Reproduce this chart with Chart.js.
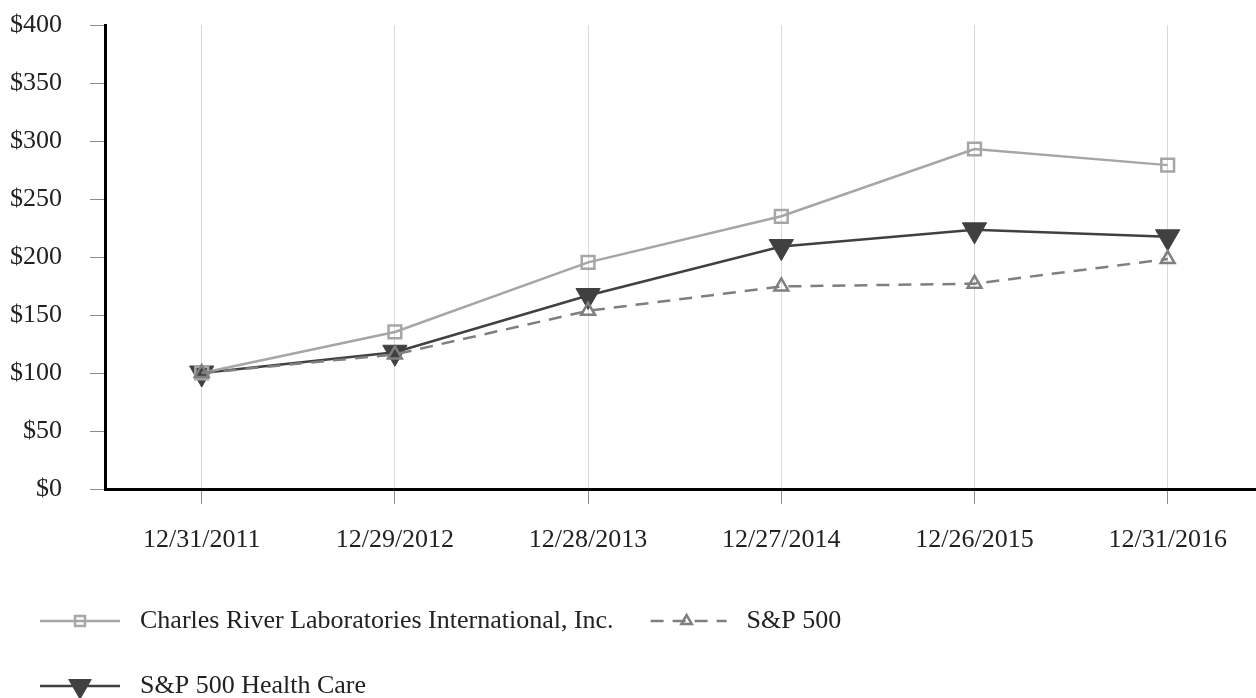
<!DOCTYPE html>
<html>
<head>
<meta charset="utf-8">
<title>Cumulative Total Return</title>
<script src="https://cdn.jsdelivr.net/npm/chart.js@4.4.1/dist/chart.umd.min.js"></script>
<style>
  html, body { margin: 0; padding: 0; background: #fff; overflow: hidden; }
  #wrap { width: 1256px; height: 698px; }
</style>
</head>
<body>
<div id="wrap"><canvas id="returnChart" width="1256" height="698"></canvas></div>
<script>
// values
const categories = ['12/31/2011', '12/29/2012', '12/28/2013', '12/27/2014', '12/26/2015', '12/31/2016'];
const crlValues = [100, 135.4, 195.4, 235.1, 293.1, 279.2];
const sp500Values = [100, 116.0, 153.6, 174.6, 177.0, 198.2];
const healthValues = [100, 117.9, 166.8, 209.0, 223.4, 217.4];
const yTicks = [0, 50, 100, 150, 200, 250, 300, 350, 400];

const serif = '"Liberation Serif", "Times New Roman", serif';

function toPoints(values) {
	return values.map(function (v, i) { return { x: i, y: v }; });
}

// the scales would otherwise reserve room for overhanging labels
function noPadding(scale) {
	scale.paddingTop = 0;
	scale.paddingBottom = 0;
	scale.paddingLeft = 0;
	scale.paddingRight = 0;
}

// Chart.js keeps a small gap on the right, so carry the x axis line on to the edge
const axisToEdge = {
	id: 'axisToEdge',
	afterDraw: function (chart) {
		const x = chart.scales.x;
		const ctx = chart.ctx;
		ctx.save();
		ctx.fillStyle = '#000';
		ctx.fillRect(x.right - 2, Math.round(x.top) - 1, chart.width - x.right + 2, 3);
		ctx.restore();
	}
};

// draws the legend in two rows at the bottom left, like the original
const bottomLegend = {
	id: 'bottomLegend',
	afterDraw: function (chart) {
		const ctx = chart.ctx;
		const sets = chart.data.datasets;
		ctx.save();
		ctx.font = '26px ' + serif;
		ctx.textBaseline = 'middle';

		function item(ds, x, y, markerRadius) {
			ctx.save();
			ctx.strokeStyle = ds.borderColor;
			ctx.lineWidth = ds.borderWidth;
			ctx.setLineDash(ds.borderDash || []);
			ctx.lineDashOffset = ds.borderDash ? -4 : 0;
			ctx.beginPath();
			ctx.moveTo(x, y);
			ctx.lineTo(x + 80, y);
			ctx.stroke();
			ctx.restore();

			ctx.save();
			ctx.fillStyle = ds.pointBackgroundColor;
			ctx.strokeStyle = ds.pointBorderColor;
			ctx.lineWidth = ds.pointBorderWidth;
			Chart.helpers.drawPoint(ctx, {
				pointStyle: ds.pointStyle,
				rotation: ds.pointRotation || 0,
				radius: markerRadius,
				borderWidth: ds.pointBorderWidth
			}, x + 40, y);
			ctx.restore();

			ctx.fillStyle = '#222';
			ctx.fillText(ds.label, x + 100, y);
			return x + 100 + ctx.measureText(ds.label).width;
		}

		const end = item(sets[0], 40, 621, 7);
		item(sets[1], end + 33, 621, 6);
		item(sets[2], 40, 686, 13);
		ctx.restore();
	}
};

const ctx = document.getElementById('returnChart').getContext('2d');

new Chart(ctx, {
	type: 'line',
	data: {
		datasets: [{
			label: 'Charles River Laboratories International, Inc.',
			data: toPoints(crlValues),
			borderColor: '#a6a6a6',
			borderWidth: 2.5,
			pointStyle: 'rect',
			pointRadius: 9,
			pointBorderWidth: 2.5,
			pointBorderColor: '#a6a6a6',
			pointBackgroundColor: 'rgba(0,0,0,0)',
			order: 1
		}, {
			label: 'S&P 500',
			data: toPoints(sp500Values),
			borderColor: '#7f7f7f',
			borderWidth: 2.5,
			borderDash: [13, 9],
			pointStyle: 'triangle',
			pointRadius: 8,
			pointBorderWidth: 2.5,
			pointBorderColor: '#7f7f7f',
			pointBackgroundColor: 'rgba(0,0,0,0)',
			order: 0
		}, {
			label: 'S&P 500 Health Care',
			data: toPoints(healthValues),
			borderColor: '#404040',
			borderWidth: 2.5,
			pointStyle: 'triangle',
			pointRotation: 180,
			pointRadius: 14,
			pointBorderWidth: 1,
			pointBorderColor: '#404040',
			pointBackgroundColor: '#404040',
			order: 2
		}]
	},
	options: {
		responsive: false,
		animation: false,
		devicePixelRatio: 1,
		layout: { padding: { top: 25, left: 0, right: 0, bottom: 0 } },
		plugins: {
			legend: { display: false },
			tooltip: { enabled: false }
		},
		scales: {
			x: {
				type: 'linear',
				min: -0.5005,
				max: 5.3795,
				afterBuildTicks: function (scale) {
					scale.ticks = categories.map(function (c, i) { return { value: i }; });
				},
				afterFit: function (scale) {
					scale.height = 209;
					noPadding(scale);
				},
				ticks: {
					color: '#222',
					padding: 0,
					maxRotation: 0,
					autoSkip: false,
					// tall line height pushes the labels down without padding
					font: { family: serif, size: 26, lineHeight: 2.75 },
					callback: function (value) { return categories[value]; }
				},
				grid: {
					color: '#d9d9d9',
					lineWidth: 1,
					tickColor: '#8c8c8c',
					tickLength: 15
				},
				border: { color: '#000', width: 3 }
			},
			y: {
				min: 0,
				max: 400,
				afterBuildTicks: function (scale) {
					scale.ticks = yTicks.map(function (v) { return { value: v }; });
				},
				afterFit: function (scale) {
					scale.width = 105;
					noPadding(scale);
				},
				ticks: {
					color: '#222',
					padding: 28,
					font: { family: serif, size: 26 },
					callback: function (value) { return '$' + value; }
				},
				grid: {
					drawOnChartArea: false,
					tickColor: '#8c8c8c',
					tickLength: 15
				},
				border: { color: '#000', width: 3 }
			}
		}
	},
	plugins: [axisToEdge, bottomLegend]
});
</script>
</body>
</html>
